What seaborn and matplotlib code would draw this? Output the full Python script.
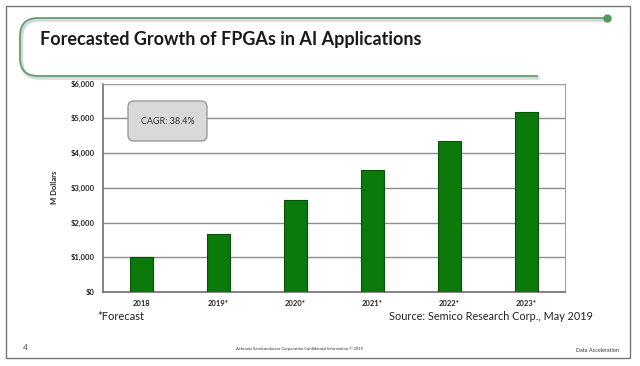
import matplotlib
matplotlib.use('Agg')
import pandas as pd
import matplotlib.pyplot as plt
import seaborn as sns
from matplotlib.patches import FancyBboxPatch, Rectangle
from matplotlib.path import Path
from matplotlib.patches import PathPatch

# data
years = ['2018', '2019*', '2020*', '2021*', '2022*', '2023*']
revenue = [1000, 1680, 2640, 3510, 4350, 5180]   # M dollars
yticks = [0, 1000, 2000, 3000, 4000, 5000, 6000]
ytick_labels = ['$0', '$1,000', '$2,000', '$3,000', '$4,000', '$5,000', '$6,000']

sns.set_style('white')
plt.rcParams['font.family'] = ['Lato', 'DejaVu Sans']

df = pd.DataFrame({'year': years, 'revenue': revenue})

fig = plt.figure(figsize=(6.4, 3.66), dpi=100)

# chart ----------------------------------------------------------------------
ax = fig.add_axes([103 / 640, 1 - 292 / 366, 462 / 640, (292 - 83.6) / 366])
sns.barplot(data=df, x='year', y='revenue', color='#0b7a0b', saturation=1,
            width=0.31, edgecolor='#0a4f0a', linewidth=0.8, ax=ax, zorder=3)
ax.set_ylim(0, 6000)
ax.set_yticks(yticks)
ax.set_yticklabels(ytick_labels, fontsize=5.5, fontweight='bold', color='#222222')
ax.set_xticklabels(years, fontsize=5.5, fontweight='bold', color='#222222')
ax.set_xlabel('')
ax.set_ylabel('M Dollars', fontsize=5.5, fontweight='bold', color='#222222', labelpad=9)
ax.yaxis.grid(True, color='#8c8c8c', linewidth=1, zorder=0)
ax.tick_params(axis='both', length=0, pad=6)
for side in ['top', 'right']:
    ax.spines[side].set_color('#a0a0a0')
    ax.spines[side].set_linewidth(0.8)
for side in ['left', 'bottom']:
    ax.spines[side].set_color('#707070')
    ax.spines[side].set_linewidth(1.2)

# slide decorations in pixel coordinates -------------------------------------
ov = fig.add_axes([0, 0, 1, 1], facecolor='none', zorder=5)
ov.set_xlim(0, 640)
ov.set_ylim(366, 0)
ov.axis('off')

# outer slide border
ov.add_patch(Rectangle((6, 6), 624, 352, fill=False, edgecolor='#777777', linewidth=1.0))

# title bracket (open on the right)
green = '#5f9f6e'
verts = [(607, 18), (38, 18), (20, 18), (20, 36), (20, 58),
         (20, 76), (38, 76), (538, 76)]
codes = [Path.MOVETO, Path.LINETO, Path.CURVE3, Path.CURVE3, Path.LINETO,
         Path.CURVE3, Path.CURVE3, Path.LINETO]
ov.add_patch(PathPatch(Path([(x + 1.5, y + 2) for x, y in verts], codes),
                       fill=False, edgecolor='#d8d8d8', linewidth=2.5))
ov.add_patch(PathPatch(Path(verts, codes), fill=False, edgecolor=green, linewidth=1.3))
ov.plot([607], [18], 'o', color='#4f9a60', markersize=5)

ov.text(40, 40, 'Forecasted Growth of FPGAs in AI Applications', fontsize=13,
        fontweight='bold', color='#1a1a1a', va='center', ha='left')

# CAGR callout
ov.add_patch(FancyBboxPatch((128, 101), 79, 40, boxstyle='round,pad=0,rounding_size=6',
                            facecolor='#d9d9d9', edgecolor='#9a9a9a', linewidth=1.0))
ov.text(167.5, 121, 'CAGR: 38.4%', fontsize=6.5, color='#333333', ha='center', va='center')

# footnotes
ov.text(97, 316, '*Forecast', fontsize=8, color='#222222', ha='left', va='center')
ov.text(593, 316, 'Source: Semico Research Corp., May 2019', fontsize=7.8,
        color='#222222', ha='right', va='center')
ov.text(25, 348, '4', fontsize=6, color='#444444', ha='center', va='center')
ov.text(300, 349, 'Achronix Semiconductor Corporation Confidential Information \u00a9 2019',
        fontsize=3, color='#333333', ha='center', va='center')
ov.text(597, 351, 'Data Acceleration', fontsize=4, color='#333333', ha='center', va='center')

fig.savefig('out.png', dpi=100)
